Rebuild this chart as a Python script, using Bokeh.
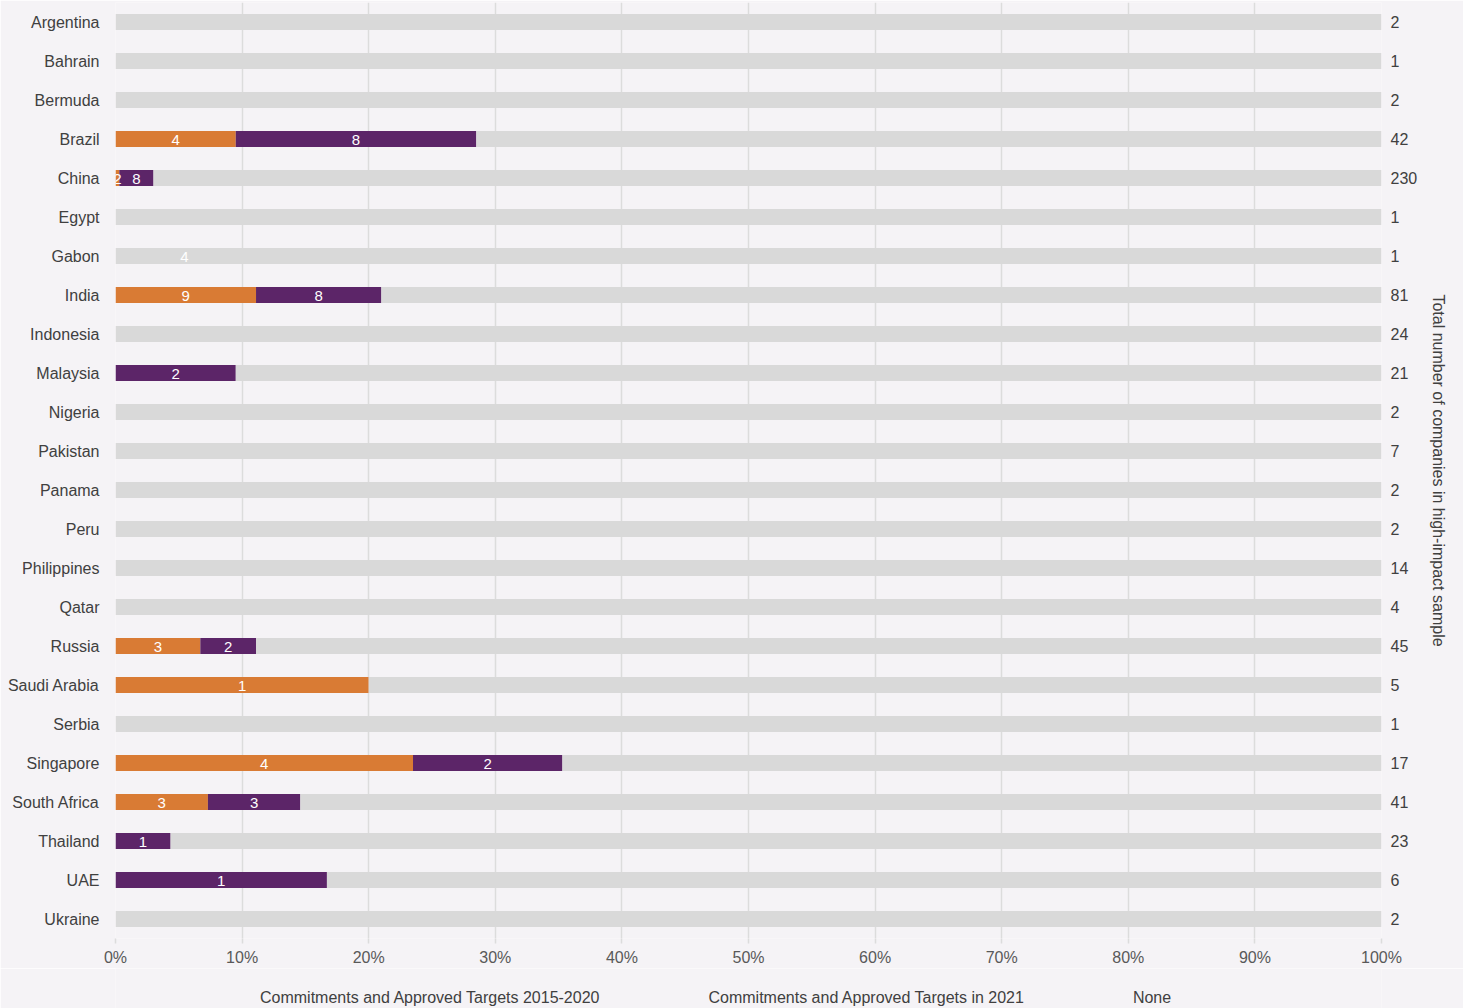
from bokeh.plotting import figure
from bokeh.layouts import column
from bokeh.models import (ColumnDataSource, Range1d, LinearAxis,
                          FixedTicker, PrintfTickFormatter, Legend, LegendItem)
from bokeh.embed import file_html
from bokeh.resources import INLINE
from bokeh.core.properties import value

countries = ["Argentina", "Bahrain", "Bermuda", "Brazil", "China", "Egypt", "Gabon",
             "India", "Indonesia", "Malaysia", "Nigeria", "Pakistan", "Panama", "Peru",
             "Philippines", "Qatar", "Russia", "Saudi Arabia", "Serbia", "Singapore",
             "South Africa", "Thailand", "UAE", "Ukraine"]
# share of companies (%) per category
pct_2015_2020 = [0, 0, 0, 9.5, 0.3, 0, 0, 11.1, 0, 0, 0, 0, 0, 0, 0, 0, 6.7, 20.0, 0, 23.5, 7.3, 0, 0, 0]
pct_2021 = [0, 0, 0, 19.0, 2.7, 0, 0, 9.9, 0, 9.5, 0, 0, 0, 0, 0, 0, 4.4, 0, 0, 11.8, 7.3, 4.35, 16.7, 0]
# counts printed inside the bars
labels_2015_2020 = ["", "", "", "4", "2", "", "", "9", "", "", "", "", "", "", "", "", "3", "1", "", "4", "3", "", "", ""]
labels_2021 = ["", "", "", "8", "8", "", "", "8", "", "2", "", "", "", "", "", "", "2", "", "", "2", "3", "1", "1", ""]
# total number of companies in high-impact sample
totals = [2, 1, 2, 42, 230, 1, 1, 81, 24, 21, 2, 7, 2, 2, 14, 4, 45, 5, 1, 17, 41, 23, 6, 2]
# stray label shown on the grey bar of Gabon
stray_country = "Gabon"
stray_value = 5.45
stray_text = "4"
series_names = ["Commitments and Approved Targets 2015-2020",
                "Commitments and Approved Targets in 2021", "None"]

ORANGE = "#d97b34"
PURPLE = "#5c2568"
GREY = "#d9d9d9"
BG = "#f5f3f6"
FONT = "Liberation Sans"
COLORS = [ORANGE, PURPLE, GREY]

n = len(countries)
row = {c: n - 1 - i for i, c in enumerate(countries)}   # Argentina on top
ys = [row[c] for c in countries]
o_end = list(pct_2015_2020)
p_end = [a + b for a, b in zip(pct_2015_2020, pct_2021)]
src = ColumnDataSource(dict(y=ys, o_end=o_end, p_end=p_end, full=[100] * n))

p = figure(width=1463, height=968, y_range=Range1d(-0.5, n - 0.5),
           x_range=Range1d(0, 100), output_backend="svg", toolbar_location=None,
           min_border_left=115, min_border_right=82, min_border_top=2, min_border_bottom=30,
           background_fill_color=BG, border_fill_color=BG, outline_line_color=None)

H = 0.41
p.hbar(y="y", left=0, right="o_end", height=H, fill_color=ORANGE, line_color=None, source=src)
p.hbar(y="y", left="o_end", right="p_end", height=H, fill_color=PURPLE, line_color=None, source=src)
p.hbar(y="y", left="p_end", right="full", height=H, fill_color=GREY, line_color=None, source=src)

# in-bar labels
lx, ly, lt = [], [], []
for c, a, b, la, lb in zip(countries, o_end, p_end, labels_2015_2020, labels_2021):
    if la:
        lx.append(a / 2); ly.append(row[c]); lt.append(la)
    if lb:
        lx.append((a + b) / 2); ly.append(row[c]); lt.append(lb)
lx.append(stray_value); ly.append(row[stray_country]); lt.append(stray_text)
lsrc = ColumnDataSource(dict(x=lx, y=ly, t=lt))
p.text(x="x", y="y", text="t", source=lsrc, text_color="white", text_align="center",
       text_baseline="middle", text_font=value(FONT), text_font_size="15px", y_offset=1)

# x axis
p.xaxis.ticker = FixedTicker(ticks=list(range(0, 101, 10)))
p.xaxis.formatter = PrintfTickFormatter(format="%d%%")
p.xaxis.axis_line_color = None
p.xaxis.major_tick_line_color = "#dcdcdc"
p.xaxis.major_tick_line_width = 1.5
p.xaxis.major_tick_out = 5
p.xaxis.major_tick_in = 0
p.xaxis.minor_tick_line_color = None
p.xaxis.major_label_text_font = FONT
p.xaxis.major_label_text_font_size = "16px"
p.xaxis.major_label_text_color = "#595959"
p.xaxis.major_label_standoff = 5

# left axis: country names
p.yaxis.ticker = FixedTicker(ticks=ys)
p.yaxis.major_label_overrides = {row[c]: c for c in countries}
p.yaxis.axis_line_color = None
p.yaxis.major_tick_line_color = None
p.yaxis.minor_tick_line_color = None
p.yaxis.major_tick_out = 0
p.yaxis.major_tick_in = 0
p.yaxis.major_label_text_font = FONT
p.yaxis.major_label_text_font_size = "16px"
p.yaxis.major_label_text_color = "#404040"
p.yaxis.major_label_standoff = 16

# right axis: totals
ax_r = LinearAxis(ticker=FixedTicker(ticks=ys),
                  major_label_overrides={row[c]: str(t) for c, t in zip(countries, totals)},
                  axis_label="Total number of companies in high-impact sample")
ax_r.axis_line_color = None
ax_r.major_tick_line_color = None
ax_r.minor_tick_line_color = None
ax_r.major_tick_out = 0
ax_r.major_tick_in = 0
ax_r.major_label_text_font = FONT
ax_r.major_label_text_font_size = "16px"
ax_r.major_label_text_color = "#404040"
ax_r.major_label_standoff = 9
ax_r.axis_label_text_font = FONT
ax_r.axis_label_text_font_size = "16px"
ax_r.axis_label_text_font_style = "normal"
ax_r.axis_label_text_color = "#404040"
ax_r.axis_label_standoff = 10
p.add_layout(ax_r, "right")

p.xgrid.grid_line_color = "#dcdcdc"
p.xgrid.grid_line_width = 1.5
p.ygrid.visible = False

# legend strip below the chart (legend-only renderers, no data)
lf = figure(width=1463, height=40, x_range=Range1d(0, 1), y_range=Range1d(0, 1),
            output_backend="svg", toolbar_location=None,
            min_border_left=0, min_border_right=0, min_border_top=0, min_border_bottom=0,
            background_fill_color=BG, border_fill_color=BG, outline_line_color=None)
lf.axis.visible = False
lf.grid.visible = False
items = []
for name, col in zip(series_names, COLORS):
    r = lf.rect(x=[], y=[], width=1, height=1, fill_color=col, line_color=None)
    items.append(LegendItem(label=name, renderers=[r]))
legend = Legend(items=items, orientation="horizontal", location=(124, 1), spacing=88,
                glyph_width=14, glyph_height=14, label_standoff=7, padding=5, margin=0,
                background_fill_alpha=0, border_line_color=None,
                label_text_font=FONT, label_text_font_size="16px", label_text_color="#404040")
lf.add_layout(legend)

layout = column(p, lf, spacing=0)
open("out.html", "w").write(file_html(layout, INLINE))
